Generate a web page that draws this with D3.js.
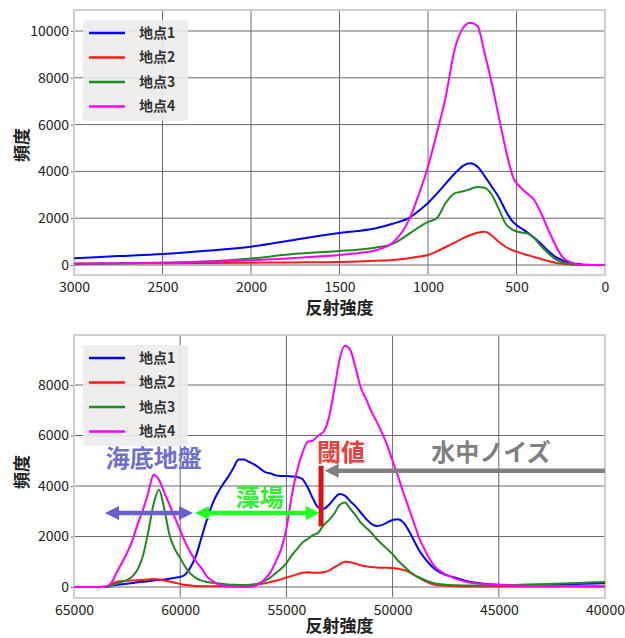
<!DOCTYPE html>
<html><head><meta charset="utf-8">
<script src="https://cdn.jsdelivr.net/npm/d3@7"></script>
<style>
html,body{margin:0;padding:0;background:#fff;}
svg{display:block;font-family:"Noto Sans CJK JP","Noto Sans",sans-serif;}
</style></head>
<body><svg id="c" width="625" height="638"></svg>
<script>
// ---------- DATA ----------
const seriesNames = ["地点1", "地点2", "地点3", "地点4"];
const seriesColors = ["#0000ff", "#ff1a1a", "#1f8a1f", "#ff00ff"];

// Top chart: 反射強度 (0-3000)
const topX = [3000,2750,2500,2250,2000,1750,1500,1400,1300,1200,1100,1050,1000,950,900,850,800,760,720,680,640,600,560,520,480,440,400,360,320,280,240,200,160,120,80,40,0];
const topS1 = [290,380,470,610,780,1080,1370,1450,1560,1760,2050,2330,2650,3050,3480,3900,4250,4350,4200,3800,3350,2900,2300,1840,1600,1400,1160,900,600,350,200,100,50,15,5,0,0];
const topS2 = [60,70,80,90,100,110,130,150,180,210,300,360,430,580,770,960,1150,1280,1380,1420,1260,990,770,620,520,430,340,260,170,100,50,20,5,0,0,0,0];
const topS3 = [30,60,100,150,280,480,600,650,740,900,1370,1620,1840,2000,2650,3060,3150,3250,3330,3300,3000,2400,1750,1500,1400,1350,1150,800,500,250,110,40,10,0,0,0,0];
const topS4 = [50,80,100,150,200,300,430,500,620,950,2050,3060,4200,5640,7180,9190,10150,10350,10200,9050,7780,6330,4920,3770,3340,3060,2780,2200,1500,850,340,130,30,5,0,0,0];
const topXTicks = [3000,2500,2000,1500,1000,500,0];
const topYTicks = [0,2000,4000,6000,8000,10000];

// Bottom chart: 反射強度 (40000-65000)
const botX = [65000,64000,63500,63250,63000,62750,62500,62250,62000,61750,61500,61250,61000,60750,60500,60250,60000,59750,59500,59250,59000,58750,58500,58250,58000,57750,57500,57250,57000,56750,56500,56250,56000,55750,55500,55250,55000,54750,54500,54250,54000,53750,53500,53250,53000,52750,52500,52250,52000,51750,51500,51250,51000,50750,50500,50250,50000,49750,49500,49250,49000,48750,48500,48250,48000,47500,47000,46500,46000,45000,44000,43000,42000,41000,40000];
const botS1 = [0,0,0,40,80,110,130,160,190,210,230,260,280,300,330,370,400,500,800,1250,1950,2650,3250,3700,4050,4350,4700,5050,5050,4950,4850,4700,4550,4500,4420,4400,4400,4380,4360,4280,3950,3500,3150,3100,3250,3500,3680,3620,3400,3200,2950,2700,2500,2420,2450,2560,2650,2680,2560,2250,1850,1450,1150,900,700,480,360,230,160,90,80,90,110,130,150];
const botS2 = [0,0,20,100,200,230,250,260,270,280,290,320,300,260,220,170,120,80,60,40,30,30,30,30,30,30,40,50,60,70,90,120,150,200,250,300,380,430,500,560,580,560,560,580,650,780,900,1000,980,930,860,820,790,770,760,760,750,720,680,600,480,360,240,150,90,50,30,20,20,20,20,20,20,20,20];
const botS3 = [0,0,0,50,120,200,280,420,700,1250,2200,3300,3850,3100,2050,1500,1150,780,520,350,250,200,170,150,120,100,90,80,80,90,110,160,250,380,550,720,950,1250,1500,1750,1900,2050,2150,2450,2650,2900,3250,3350,3100,2850,2550,2350,2150,1900,1700,1500,1300,1050,850,650,480,380,280,200,140,90,70,60,60,70,90,110,140,170,200];
const botS4 = [0,0,20,150,560,950,1360,1850,2500,3050,3750,4450,4250,3750,3250,2750,2250,1750,1350,1000,750,420,250,120,50,20,10,0,0,0,30,150,330,580,1000,1500,2300,3600,4600,5300,5750,5800,6000,6150,6700,7800,9000,9550,9400,8700,7900,7450,6950,6550,6100,5600,5000,4400,3750,3150,2550,1950,1500,1100,800,500,320,200,140,80,50,40,40,30,20];
const botXTicks = [65000,60000,55000,50000,45000,40000];
const botYTicks = [0,2000,4000,6000,8000];

// Annotations (data coordinates of the bottom chart)
const annoTexts = [
  {text:"海底地盤", x:61250, y:5100, color:"#7070cc"},
  {text:"藻場", x:56250, y:3560, color:"#33ee33"},
  {text:"閾値", x:52430, y:5350, color:"#ee3c3c"},
  {text:"水中ノイズ", x:45370, y:5350, color:"#808080"}
];
const annoArrows = [
  {x1:63540, x2:59400, y:2930, color:"#6a5fcd", both:true},
  {x1:59300, x2:53430, y:2930, color:"#22ff22", both:true},
  {x1:40000, x2:53200, y:4600, color:"#808080", both:false}
];
const thresholdLine = {x:53370, y1:2400, y2:4800, color:"#dd1111"};

// ---------- DRAW ----------
const svg = d3.select("#c");
const defsRoot = svg.append("defs");

function drawChart(cfg) {
  const x = d3.scaleLinear().domain(cfg.xDomain).range([cfg.left, cfg.right]);
  const y = d3.scaleLinear().domain(cfg.yDomain).range([cfg.bottom, cfg.top]);
  const g = svg.append("g");
  const clipId = "clip" + cfg.id;
  defsRoot.append("clipPath").attr("id", clipId).append("rect")
    .attr("x", cfg.left).attr("y", cfg.top)
    .attr("width", cfg.right - cfg.left).attr("height", cfg.bottom - cfg.top);

  // grid
  g.selectAll(".gx").data(cfg.xTicks).enter().append("line")
    .attr("x1", d => x(d)).attr("x2", d => x(d))
    .attr("y1", cfg.top).attr("y2", cfg.bottom)
    .attr("stroke", "#6a6a6a").attr("stroke-width", 1);
  g.selectAll(".gy").data(cfg.yTicks).enter().append("line")
    .attr("x1", cfg.left).attr("x2", cfg.right)
    .attr("y1", d => y(d)).attr("y2", d => y(d))
    .attr("stroke", "#6a6a6a").attr("stroke-width", 1);

  // axes
  const xa = g.append("g").attr("transform", `translate(0,${cfg.bottom})`)
    .call(d3.axisBottom(x).tickValues(cfg.xTicks).tickFormat(d3.format("d")).tickSize(0).tickPadding(7));
  const ya = g.append("g").attr("transform", `translate(${cfg.left},0)`)
    .call(d3.axisLeft(y).tickValues(cfg.yTicks).tickFormat(d3.format("d")).tickSize(3).tickPadding(2));
  [xa, ya].forEach(a => {
    a.select(".domain").remove();
    a.selectAll("text").attr("font-size", 14).attr("fill", "#222")
      .attr("font-family", "'Noto Sans CJK JP', sans-serif");
    a.selectAll("line").attr("stroke", "#666");
  });

  // frame
  g.append("rect").attr("x", cfg.left).attr("y", cfg.top)
    .attr("width", cfg.right - cfg.left).attr("height", cfg.bottom - cfg.top)
    .attr("fill", "none").attr("stroke", "#cfcfcf").attr("stroke-width", 2);

  // lines
  const lg = g.append("g").attr("clip-path", `url(#${clipId})`);
  cfg.series.forEach((vals, i) => {
    const pts = cfg.xs.map((xv, j) => [xv, vals[j]]);
    lg.append("path").datum(pts)
      .attr("fill", "none").attr("stroke", seriesColors[i]).attr("stroke-width", 2)
      .attr("stroke-linejoin", "round")
      .attr("d", d3.line().x(d => x(d[0])).y(d => y(d[1])).curve(d3.curveMonotoneX));
  });

  // legend
  const lx = cfg.left + 9, ly = cfg.top + 10;
  const leg = g.append("g");
  leg.append("rect").attr("x", lx).attr("y", ly).attr("width", 105).attr("height", 101)
    .attr("rx", 3).attr("fill", "#ececec").attr("fill-opacity", 0.9);
  seriesNames.forEach((n, i) => {
    const yy = ly + 13 + i * 24.5;
    leg.append("line").attr("x1", lx + 6).attr("x2", lx + 42).attr("y1", yy).attr("y2", yy)
      .attr("stroke", seriesColors[i]).attr("stroke-width", 2.5);
    leg.append("text").attr("x", lx + 56).attr("y", yy).attr("dy", "0.35em")
      .attr("font-size", 14).attr("font-weight", "bold").attr("fill", "#333").text(n);
  });

  // axis labels
  g.append("text").attr("x", (cfg.left + cfg.right) / 2).attr("y", cfg.bottom + cfg.xlabelOff)
    .attr("text-anchor", "middle").attr("dy", "0.35em")
    .attr("font-size", 17).attr("font-weight", "bold").attr("fill", "#222").text("反射強度");
  g.append("text").attr("transform", `translate(22,${cfg.ylabelY}) rotate(-90)`)
    .attr("text-anchor", "middle").attr("dy", "0.35em")
    .attr("font-size", 17).attr("font-weight", "bold").attr("fill", "#222").text("頻度");

  return {x, y, g};
}

drawChart({id: 1, left: 74, right: 605, top: 10, bottom: 275,
  xDomain: [3000, 0], yDomain: [-427, 10897],
  xTicks: topXTicks, yTicks: topYTicks, xs: topX,
  series: [topS1, topS2, topS3, topS4], ylabelY: 145, xlabelOff: 33});

const bot = drawChart({id: 2, left: 74, right: 605, top: 335, bottom: 598,
  xDomain: [65000, 40000], yDomain: [-436, 9980],
  xTicks: botXTicks, yTicks: botYTicks, xs: botX,
  series: [botS1, botS2, botS3, botS4], ylabelY: 472, xlabelOff: 28});

// annotations
const ag = svg.append("g");
function arrowHead(x0, y0, dir, color, len, half) {
  ag.append("path")
    .attr("d", `M${x0},${y0} L${x0 - dir*len},${y0 - half} L${x0 - dir*len},${y0 + half} Z`)
    .attr("fill", color);
}
annoArrows.forEach(a => {
  const xa = bot.x(a.x1), xb = bot.x(a.x2), yy = bot.y(a.y);
  const dir = xb > xa ? 1 : -1;
  const len = 14, half = 7;
  ag.append("line").attr("x1", a.both ? xa + dir*len*0.8 : xa).attr("x2", xb - dir*len*0.8)
    .attr("y1", yy).attr("y2", yy).attr("stroke", a.color).attr("stroke-width", 4.5);
  arrowHead(xb, yy, dir, a.color, len, half);
  if (a.both) arrowHead(xa, yy, -dir, a.color, len, half);
});
ag.append("line")
  .attr("x1", bot.x(thresholdLine.x)).attr("x2", bot.x(thresholdLine.x))
  .attr("y1", bot.y(thresholdLine.y1)).attr("y2", bot.y(thresholdLine.y2))
  .attr("stroke", thresholdLine.color).attr("stroke-width", 5);
annoTexts.forEach(t => {
  ag.append("text").attr("x", bot.x(t.x)).attr("y", bot.y(t.y))
    .attr("text-anchor", "middle").attr("dy", "0.36em")
    .attr("font-size", 24).attr("font-weight", "bold").attr("fill", t.color).text(t.text);
});
</script></body></html>
